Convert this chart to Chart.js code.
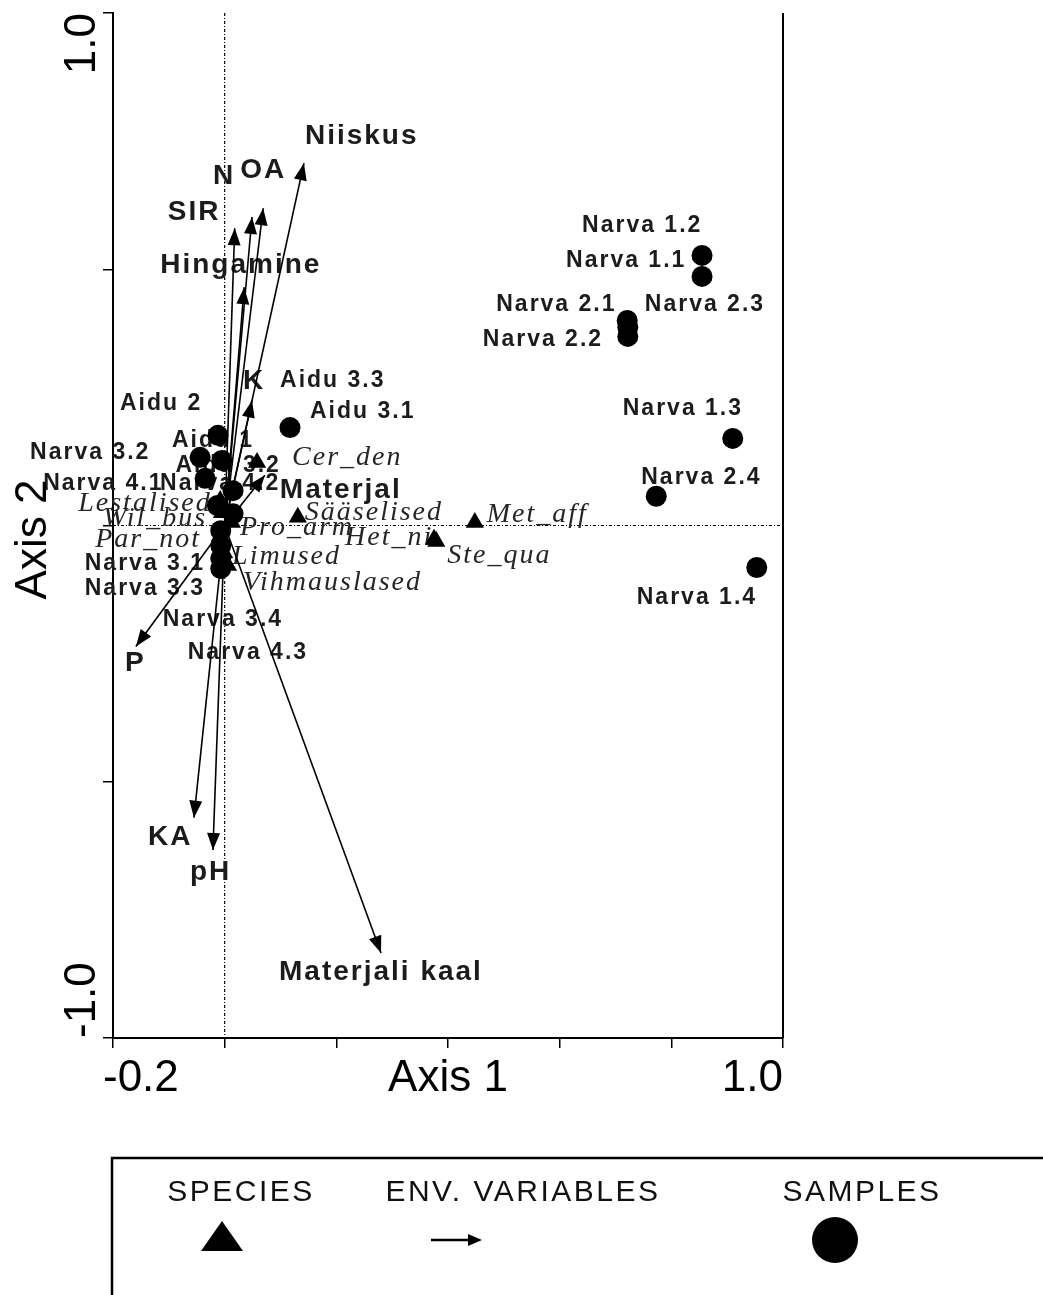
<!DOCTYPE html>
<html>
<head>
<meta charset="utf-8">
<script src="https://cdn.jsdelivr.net/npm/chart.js@4.4.1/dist/chart.umd.min.js"></script>
<style>
html, body { margin: 0; padding: 0; background: #fff; }
#wrap { width: 1043px; height: 1295px; }
</style>
</head>
<body>
<div id="wrap"><canvas id="myChart" width="1043" height="1295"></canvas></div>
<script>
// samples (circles)
const sampleNames = ['Narva 1.1', 'Narva 1.2', 'Narva 1.3', 'Narva 1.4', 'Narva 2.1', 'Narva 2.2', 'Narva 2.3', 'Narva 2.4',
    'Narva 3.1', 'Narva 3.2', 'Narva 3.3', 'Narva 3.4', 'Narva 4.1', 'Narva 4.2', 'Narva 4.3',
    'Aidu 1', 'Aidu 2', 'Aidu 3.1', 'Aidu 3.2', 'Aidu 3.3'];
const sampleX = [0.855, 0.855, 0.910, 0.953, 0.721, 0.722, 0.722, 0.773,
    -0.007, -0.044, -0.007, -0.007, -0.035, 0.015, -0.007,
    -0.005, -0.012, 0.117, -0.013, 0.015];
const sampleY = [0.486, 0.527, 0.170, -0.082, 0.400, 0.369, 0.387, 0.057,
    -0.010, 0.133, -0.039, -0.064, 0.092, 0.068, -0.084,
    0.127, 0.176, 0.191, 0.039, 0.023];

// species (triangles)
const speciesNames = ['Cer_den', 'Lestalised', 'Wil_bus', 'Par_not', 'Pro_arm', 'Limused', 'Vihmauslased',
    'Sääselised', 'Het_ni', 'Ste_qua', 'Met_aff'];
const speciesX = [0.058, -0.008, -0.005, -0.008, 0.013, -0.001, 0.006, 0.131, 0.375, 0.379, 0.448];
const speciesY = [0.123, 0.049, 0.025, -0.020, 0.006, -0.053, -0.078, 0.016, -0.027, -0.031, 0.006];

// environmental variables (arrows from origin)
const envNames = ['Niiskus', 'OA', 'N', 'SIR', 'Hingamine', 'K', 'Materjal', 'P', 'KA', 'pH', 'Materjali kaal'];
const envX = [0.142, 0.069, 0.049, 0.018, 0.035, 0.049, 0.072, -0.159, -0.055, -0.021, 0.280];
const envY = [0.707, 0.619, 0.602, 0.580, 0.465, 0.244, 0.098, -0.236, -0.570, -0.633, -0.834];

const xTickLabels = ['-0.2', '1.0'];
const yTickLabels = ['-1.0', '1.0'];

// label placement: pixel offset of label start from its mark
const sampleLabelPos = [[-136, -16], [-120, -30], [-110, -30], [-120, 30], [-131, -16], [-145, 3], [17, -23], [-15, -19],
    [-136, 33], [-170, -5], [-136, 43], [-58, 61], [-162, 5], [-73, -7], [-33, 84],
    [-50, -20], [-98, -32], [20, -16], [-42, -40], [47, -133]];
const speciesLabelPos = [[35, -5], [-142, 3], [-119, 6], [-125, 4], [8, 5], [8, 4], [15, 17], [7, -5], [-89, -2], [11, 14], [12, -8]];
const envLabelPos = [[1, -27], [-23, -38], [-39, -41], [-67, -16], [-84, -22], [-9, -19], [15, 15], [-11, 17], [-46, 20], [-23, 22], [-102, 19]];

const black = '#000';
const sans = '"Liberation Sans", Arial, sans-serif';
const serif = '"Liberation Serif", "Times New Roman", serif';

function pts(xs, ys) {
    return xs.map((v, i) => ({ x: v, y: ys[i] }));
}

const datasets = [{
    label: 'SAMPLES',
    data: pts(sampleX, sampleY),
    pointStyle: 'circle',
    pointRadius: 10.5,
    backgroundColor: black,
    borderColor: black,
    borderWidth: 0
}, {
    label: 'SPECIES',
    data: pts(speciesX, speciesY),
    pointStyle: 'triangle',
    pointRadius: 10.5,
    backgroundColor: black,
    borderColor: black,
    borderWidth: 0
}];

envNames.forEach((name, i) => {
    datasets.push({
        label: name,
        isEnv: true,
        data: [{ x: 0, y: 0 }, { x: envX[i], y: envY[i] }],
        showLine: true,
        borderColor: black,
        borderWidth: 1.6,
        pointRadius: 0
    });
});

function setSpacing(ctx, px) {
    if ('letterSpacing' in ctx) ctx.letterSpacing = px + 'px';
}

function drawLabels(ctx, meta, names, offsets, font, color) {
    ctx.font = font;
    ctx.fillStyle = color;
    ctx.textAlign = 'left';
    ctx.textBaseline = 'middle';
    meta.data.forEach((el, i) => {
        ctx.fillText(names[i], el.x + offsets[i][0], el.y + offsets[i][1]);
    });
}

function arrowHead(ctx, x1, y1, x2, y2, len, half) {
    const a = Math.atan2(y2 - y1, x2 - x1);
    ctx.beginPath();
    ctx.moveTo(x2, y2);
    ctx.lineTo(x2 - len * Math.cos(a) + half * Math.sin(a), y2 - len * Math.sin(a) - half * Math.cos(a));
    ctx.lineTo(x2 - len * Math.cos(a) - half * Math.sin(a), y2 - len * Math.sin(a) + half * Math.cos(a));
    ctx.closePath();
    ctx.fill();
}

const biplot = {
    id: 'biplot',
    beforeDatasetsDraw(chart) {
        const { ctx, chartArea: a, scales: { x, y } } = chart;
        const x0 = x.getPixelForValue(0);
        const y0 = y.getPixelForValue(0);
        ctx.save();
        // zero lines
        ctx.strokeStyle = black;
        ctx.lineWidth = 1.2;
        ctx.setLineDash([3, 2, 1, 2]);
        ctx.beginPath();
        ctx.moveTo(x0, a.top);
        ctx.lineTo(x0, a.bottom);
        ctx.moveTo(a.left, y0);
        ctx.lineTo(a.right, y0);
        ctx.stroke();
        ctx.setLineDash([]);
        // right frame
        ctx.lineWidth = 2;
        ctx.beginPath();
        ctx.moveTo(a.right, a.top);
        ctx.lineTo(a.right, a.bottom);
        ctx.stroke();

        // labels under the marks
        setSpacing(ctx, 2);
        drawLabels(ctx, chart.getDatasetMeta(1), speciesNames, speciesLabelPos, 'italic 28px ' + serif, '#262626');
        drawLabels(ctx, chart.getDatasetMeta(0), sampleNames, sampleLabelPos, 'bold 23px ' + sans, '#1c1c1c');
        const envMetas = chart.data.datasets.map((d, i) => i).filter(i => chart.data.datasets[i].isEnv);
        ctx.font = 'bold 28px ' + sans;
        ctx.fillStyle = '#1c1c1c';
        envMetas.forEach((di, k) => {
            const tip = chart.getDatasetMeta(di).data[1];
            ctx.fillText(envNames[k], tip.x + envLabelPos[k][0], tip.y + envLabelPos[k][1]);
        });
        ctx.restore();
    },
    afterDatasetsDraw(chart) {
        const { ctx, chartArea: a } = chart;
        ctx.save();
        ctx.fillStyle = black;
        chart.data.datasets.forEach((d, i) => {
            if (!d.isEnv) return;
            const m = chart.getDatasetMeta(i).data;
            arrowHead(ctx, m[0].x, m[0].y, m[1].x, m[1].y, 17, 6.5);
        });

        // axis texts
        ctx.font = '44px ' + sans;
        ctx.fillStyle = black;
        ctx.textBaseline = 'alphabetic';
        const base = a.bottom + 53;
        ctx.textAlign = 'left';
        ctx.fillText(xTickLabels[0], a.left - 10, base);
        ctx.textAlign = 'right';
        ctx.fillText(xTickLabels[1], a.right, base);
        ctx.textAlign = 'center';
        ctx.fillText('Axis 1', (a.left + a.right) / 2, base);

        ctx.save();
        ctx.translate(95, a.top);
        ctx.rotate(-Math.PI / 2);
        ctx.textAlign = 'right';
        ctx.fillText(yTickLabels[1], 0, 0);
        ctx.restore();
        ctx.save();
        ctx.translate(95, a.bottom);
        ctx.rotate(-Math.PI / 2);
        ctx.textAlign = 'left';
        ctx.fillText(yTickLabels[0], 0, 0);
        ctx.restore();
        ctx.save();
        ctx.translate(46, (a.top + a.bottom) / 2 + 14);
        ctx.rotate(-Math.PI / 2);
        ctx.textAlign = 'center';
        ctx.fillText('Axis 2', 0, 0);
        ctx.restore();
        ctx.restore();
    },
    afterDraw(chart) {
        const ctx = chart.ctx;
        const top = 1158, left = 112, row = 1240;
        ctx.save();
        ctx.strokeStyle = black;
        ctx.lineWidth = 2.5;
        ctx.strokeRect(left, top, 1100, 400);
        ctx.font = '30px ' + sans;
        ctx.fillStyle = '#111';
        ctx.textAlign = 'center';
        ctx.textBaseline = 'middle';
        setSpacing(ctx, 2.5);
        ctx.fillText('SPECIES', 241, 1193);
        ctx.fillText('ENV. VARIABLES', 523, 1193);
        ctx.fillText('SAMPLES', 862, 1193);
        ctx.fillStyle = black;
        // triangle
        ctx.beginPath();
        ctx.moveTo(222, row - 19);
        ctx.lineTo(201, row + 11);
        ctx.lineTo(243, row + 11);
        ctx.closePath();
        ctx.fill();
        // arrow
        ctx.lineWidth = 2.5;
        ctx.beginPath();
        ctx.moveTo(431, row);
        ctx.lineTo(470, row);
        ctx.stroke();
        arrowHead(ctx, 431, row, 482, row, 14, 6);
        // circle
        ctx.beginPath();
        ctx.ellipse(835, row, 23, 23, 0, 0, Math.PI * 2);
        ctx.fill();
        ctx.restore();
    }
};

const axisGrid = { drawOnChartArea: false, tickLength: 10, color: black, lineWidth: 1.5 };

const config = {
    type: 'scatter',
    data: { datasets: datasets },
    options: {
        responsive: false,
        animation: false,
        layout: { padding: { left: 103, right: 260, top: 13, bottom: 247 } },
        plugins: { legend: { display: false }, tooltip: { enabled: false } },
        scales: {
            x: {
                type: 'linear', min: -0.2, max: 1.0,
                ticks: { display: false, stepSize: 0.2 },
                grid: axisGrid,
                border: { color: black, width: 2 }
            },
            y: {
                type: 'linear', min: -1.0, max: 1.0,
                ticks: { display: false, stepSize: 0.5 },
                grid: axisGrid,
                border: { color: black, width: 2 }
            }
        }
    },
    plugins: [biplot]
};

const myChart = new Chart(document.getElementById('myChart'), config);
</script>
</body>
</html>
